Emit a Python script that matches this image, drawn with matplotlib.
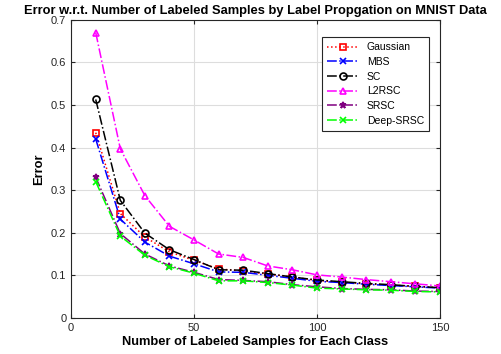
import matplotlib

matplotlib.use("Agg")
import matplotlib.pyplot as plt

plt.rcParams["font.family"] = ["Liberation Sans", "DejaVu Sans"]

n_labeled = [10, 20, 30, 40, 50, 60, 70, 80, 90, 100, 110, 120, 130, 140, 150]
gaussian = [0.435, 0.245, 0.190, 0.155, 0.135, 0.115, 0.110, 0.103, 0.096, 0.088, 0.084, 0.080, 0.077, 0.074, 0.071]
mbs = [0.420, 0.232, 0.178, 0.145, 0.127, 0.108, 0.107, 0.100, 0.093, 0.086, 0.083, 0.079, 0.076, 0.073, 0.070]
sc = [0.513, 0.276, 0.199, 0.160, 0.137, 0.113, 0.112, 0.104, 0.096, 0.089, 0.085, 0.081, 0.078, 0.074, 0.071]
l2rsc = [0.670, 0.397, 0.287, 0.215, 0.183, 0.150, 0.142, 0.122, 0.113, 0.101, 0.096, 0.090, 0.085, 0.080, 0.075]
srsc = [0.330, 0.198, 0.150, 0.122, 0.107, 0.090, 0.088, 0.085, 0.078, 0.073, 0.069, 0.067, 0.066, 0.063, 0.062]
deep_srsc = [0.320, 0.192, 0.147, 0.120, 0.105, 0.087, 0.087, 0.083, 0.077, 0.070, 0.068, 0.066, 0.065, 0.062, 0.061]

series = [
    ("Gaussian", gaussian, "red", ":", "s"),
    ("MBS", mbs, "blue", "-.", "x"),
    ("SC", sc, "black", "-.", "o"),
    ("L2RSC", l2rsc, "magenta", "-.", "^"),
    ("SRSC", srsc, "purple", "-.", "*"),
    ("Deep-SRSC", deep_srsc, "lime", "-.", "x"),
]

fig = plt.figure(figsize=(5.01, 3.54), dpi=100)
ax = fig.add_axes([0.142, 0.102, 0.736, 0.842])

for name, vals, c, ls, mk in series:
    ax.plot(n_labeled, vals, color=c, ls=ls, marker=mk, lw=1.1, ms=5,
            mfc="none" if mk in ("s", "o", "^") else c, mew=1.2, label=name)

ax.set_xlim(0, 150)
ax.set_ylim(0, 0.7)
ax.set_xticks([0, 50, 100, 150])
ax.set_yticks([0, 0.1, 0.2, 0.3, 0.4, 0.5, 0.6, 0.7])
ax.set_yticklabels(["0", "0.1", "0.2", "0.3", "0.4", "0.5", "0.6", "0.7"])
ax.grid(True, color="#dddddd", lw=0.8)
ax.set_axisbelow(True)
ax.tick_params(direction="in", labelsize=8, colors="#262626", top=True, right=True, length=3)
for sp in ax.spines.values():
    sp.set_color("#262626")
    sp.set_linewidth(0.8)

ax.set_xlabel("Number of Labeled Samples for Each Class", fontsize=9.3, fontweight="bold", labelpad=2)
ax.set_ylabel("Error", fontsize=9.3, fontweight="bold", labelpad=4)
ax.set_title("Error w.r.t. Number of Labeled Samples by Label Propgation on MNIST Data",
             fontsize=9.3, fontweight="bold", pad=4)

leg = ax.legend(loc="upper right", fontsize=7.5, fancybox=False, framealpha=1,
                edgecolor="#262626", handlelength=3.0, borderpad=0.5,
                labelspacing=0.45, bbox_to_anchor=(0.985, 0.96))
leg.get_frame().set_linewidth(0.8)

fig.savefig("out.png", dpi=100)
